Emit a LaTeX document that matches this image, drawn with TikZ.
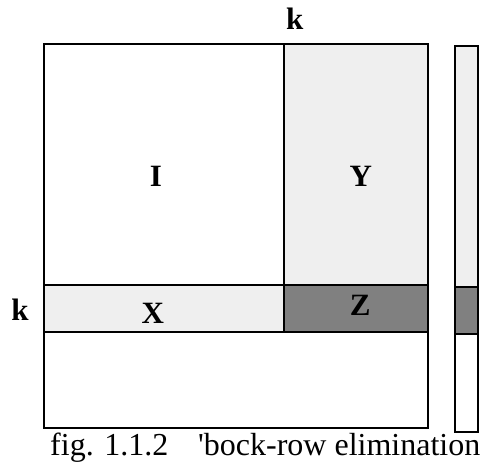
\documentclass[tikz,border=0pt]{standalone}
\usepackage{fontspec}
\setmainfont{Liberation Serif}
% separate family without TeX ligatures so the apostrophe stays straight
\newfontfamily\capfont{Liberation Serif}
\definecolor{lightfill}{HTML}{EFEFEF}
\definecolor{darkfill}{HTML}{808080}
\begin{document}
\begin{tikzpicture}[x=1pt,y=-1pt,
  blk/.style={draw=black,line width=2pt},
  lbl/.style={inner sep=0pt,anchor=base,font=\fontsize{31}{36}\selectfont\bfseries},
  captiontext/.style={inner sep=0pt,anchor=base west,font=\fontsize{32}{36}\selectfont\capfont}]
\useasboundingbox (0,0) rectangle (483,464);
% main matrix with its shaded blocks
\fill[lightfill] (283.5,44) rectangle (428.3,284.5);
\fill[lightfill] (43.5,284.5) rectangle (283.5,331.5);
\fill[darkfill] (283.5,284.5) rectangle (428.3,331.5);
\draw[blk] (43.5,44) rectangle (428.3,428);
\draw[blk] (283.5,44) -- (283.5,331.5);
\draw[blk] (43.5,284.5) -- (428.3,284.5);
\draw[blk] (43.5,331.5) -- (428.3,331.5);
% right-hand vector
\fill[lightfill] (454.5,46) rectangle (478,286.5);
\fill[darkfill] (454.5,286.5) rectangle (478,334);
\draw[blk] (454.5,46) rectangle (478,432);
\draw[blk] (454.5,286.5) -- (478,286.5);
\draw[blk] (454.5,334) -- (478,334);
% labels
\node[lbl] (lI) at (156,186.7) {I};
\node[lbl] (lY) at (360.7,186.7) {Y};
\node[lbl] (lX) at (152.8,323.3) {X};
\node[lbl] (lZ) at (360.3,315) {Z};
\node[lbl] (ktop) at (294.7,29) {k};
\node[lbl] (kleft) at (20,320.7) {k};
% caption
\node[captiontext] (capnum) at (50,455.5) {fig. 1.1.2};
\node[captiontext] (captext) at (198,455.5) {'bock-row elimination};
\end{tikzpicture}
\end{document}
